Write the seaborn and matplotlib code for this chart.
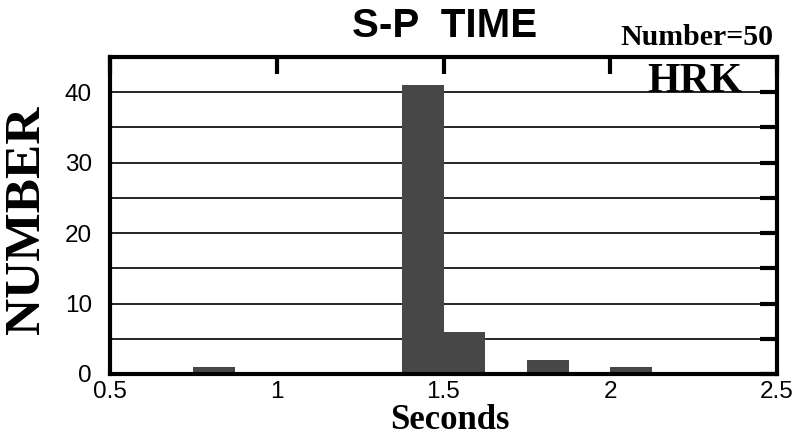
import matplotlib
matplotlib.use("Agg")
import matplotlib.pyplot as plt
import seaborn as sns
import numpy as np

# Data
bin_starts = [0.75, 1.375, 1.5, 1.75, 2.0]
counts = [1, 41, 6, 2, 1]
bin_width = 0.125
x_ticklabels = ["0.5", "1", "1.5", "2", "2.5"]
y_ticklabels = ["0", "10", "20", "30", "40"]
title = "S-P  TIME"
number_text = "Number=50"
station = "HRK"

sns.set_theme(style="white")
plt.rcParams['font.family'] = ['Liberation Sans', 'DejaVu Sans']
plt.rcParams['text.color'] = 'black'
plt.rcParams['axes.labelcolor'] = 'black'

W, H = 799, 446
AX_BOTTOM, AX_TOP = 374, 57
fig = plt.figure(figsize=(W/100, H/100), dpi=100)
ax = fig.add_axes([110/W, 1-AX_BOTTOM/H, (777-110)/W, (AX_BOTTOM-AX_TOP)/H])

centers = [s + bin_width/2 for s in bin_starts]
sns.histplot(x=centers, weights=counts, binwidth=bin_width, binrange=(0.5, 2.5),
             color="#474747", alpha=1, edgecolor="none", linewidth=0, ax=ax, zorder=3)

ax.set_xlim(0.5, 2.5)
ax.set_ylim(0, 45)

# gridlines
for yv in range(5, 45, 5):
    ax.axhline(yv, color="black", lw=1.2, zorder=1)

ax.set_xticks([0.5, 1, 1.5, 2, 2.5])
ax.set_xticklabels(x_ticklabels)
ax.set_yticks([0, 10, 20, 30, 40])
ax.set_yticklabels(y_ticklabels)
ax.set_yticks(range(5, 45, 10), minor=True)
ax.tick_params(axis='both', which='both', direction='in', width=3, color='black',
               top=True, right=True, labelsize=17.5, labelcolor='black')
ax.tick_params(axis='both', which='major', length=12)
ax.tick_params(axis='y', which='minor', length=12)
ax.tick_params(axis='x', which='major', pad=5)
ax.tick_params(axis='y', which='major', pad=13)
for sp in ax.spines.values():
    sp.set_linewidth(3)
    sp.set_color('black')
    sp.set_zorder(5)

ax.set_ylabel("NUMBER", family="Liberation Serif", fontweight="bold", fontsize=37,
              color="black")
ax.yaxis.set_label_coords((27-110)/667, (AX_BOTTOM-220)/(AX_BOTTOM-AX_TOP))
ax.yaxis.label.set_va("center")

fig.text(445/W, 1-37/H, title, ha="center", va="baseline", fontsize=29,
         fontweight="bold", family="Liberation Sans", color="black")
fig.text(773/W, 1-45/H, number_text, ha="right", va="baseline", fontsize=21.5,
         fontweight="bold", family="Liberation Serif", color="black")
fig.text(695/W, 1-92/H, station, ha="center", va="baseline",
         fontsize=30, fontweight="bold", family="Liberation Serif", color="black")

# x label placed just below tick labels so they do not collide
fig.canvas.draw()
renderer = fig.canvas.get_renderer()
tick_bottom = min(t.get_window_extent(renderer).y0 for t in ax.get_xticklabels())
size = 25
xl = ax.set_xlabel("Seconds", family="Liberation Serif", fontweight="bold",
                   fontsize=size, color="black")
while True:
    xl.set_fontsize(size)
    xl.set_va("top")
    y_axes = ax.transAxes.inverted().transform((0, tick_bottom - 1))[1]
    ax.xaxis.set_label_coords((450-110)/667, y_axes)
    fig.canvas.draw()
    bb = xl.get_window_extent(renderer)
    if bb.y0 >= 0.5 or size <= 18:
        break
    size -= 0.5

fig.savefig("out.png", dpi=100)
